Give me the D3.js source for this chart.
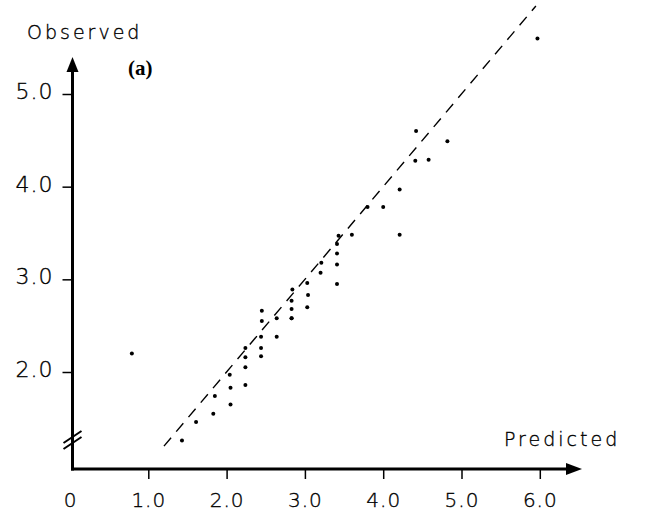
<!DOCTYPE html>
<html>
<head>
<meta charset="utf-8">
<script src="https://cdn.jsdelivr.net/npm/d3@7"></script>
<style>
    body { margin: 0; background: #fff; }
    .hand { font-family: "DejaVu Sans", sans-serif; font-weight: 200; fill: #000; stroke: #000; stroke-width: 0.35px; }
</style>
</head>
<body>
<div id="chart"></div>
<script>
// observed vs predicted values
var predicted = [0.79, 1.43, 1.61, 1.83, 1.85, 2.04, 2.05, 2.05, 2.24, 2.24, 2.24, 2.24,
    2.44, 2.44, 2.44, 2.45, 2.45, 2.64, 2.64, 2.83, 2.83, 2.83, 2.83, 2.84, 3.03, 3.03,
    3.04, 3.20, 3.21, 3.41, 3.41, 3.41, 3.41, 3.43, 3.60, 3.80, 4.00, 4.21, 4.21, 4.41,
    4.42, 4.58, 4.82, 5.97];
var observed = [2.20, 1.26, 1.46, 1.55, 1.74, 1.97, 1.83, 1.65, 2.26, 2.16, 2.05, 1.86,
    2.38, 2.26, 2.17, 2.66, 2.55, 2.58, 2.38, 2.58, 2.68, 2.77, 2.58, 2.89, 2.96, 2.70,
    2.83, 3.07, 3.18, 3.38, 3.28, 3.16, 2.95, 3.47, 3.48, 3.78, 3.78, 3.97, 3.48, 4.28,
    4.60, 4.29, 4.49, 5.60];

// the 1:1 line and the axis ticks
var refLine = [1.2, 5.95];
var xTicks = [0, 1, 2, 3, 4, 5, 6];
var yTicks = [2, 3, 4, 5];

var width = 649, height = 514;

var svg = d3.select('#chart').append('svg')
    .attr('width', width)
    .attr('height', height);

var x = d3.scaleLinear().domain([0, 6]).range([70, 539.8]);
var y = d3.scaleLinear().domain([2, 5]).range([372, 94]);

var axisX = 72.5, axisY = 469;   // where the two axes sit

// axis lines with arrow heads
svg.append('line')
    .attr('x1', axisX).attr('y1', axisY + 1.5)
    .attr('x2', axisX).attr('y2', 66)
    .style('stroke', '#000').style('stroke-width', 3);
svg.append('path')
    .attr('d', 'M' + (axisX - 6) + ',72 L' + axisX + ',57 L' + (axisX + 6) + ',72 Z')
    .style('fill', '#000');

svg.append('line')
    .attr('x1', axisX - 1.5).attr('y1', axisY)
    .attr('x2', 572).attr('y2', axisY)
    .style('stroke', '#000').style('stroke-width', 3);
svg.append('path')
    .attr('d', 'M566,' + (axisY - 6) + ' L582,' + axisY + ' L566,' + (axisY + 6) + ' Z')
    .style('fill', '#000');

// axis break on the y axis
[-3, 3].forEach(function (d) {
    svg.append('line')
        .attr('x1', axisX - 9).attr('y1', 446 + d)
        .attr('x2', axisX + 9).attr('y2', 434 + d)
        .style('stroke', '#000').style('stroke-width', 2);
});

// x axis ticks
var gx = svg.append('g')
    .attr('transform', 'translate(0,' + axisY + ')')
    .call(d3.axisBottom(x).tickValues(xTicks).tickSize(10)
        .tickFormat(function (d) { return d === 0 ? '0' : d.toFixed(1) }));
gx.select('.domain').remove();
gx.selectAll('.tick line').style('stroke', '#000').style('stroke-width', 1.5)
    .attr('y1', 1)
    .filter(function (d) { return d === 0 }).remove();
gx.selectAll('.tick text')
    .attr('class', 'hand')
    .attr('y', 31)
    .attr('dy', '0.35em')
    .style('font-size', '20px')
    .style('letter-spacing', '1px');

// y axis ticks
var gy = svg.append('g')
    .attr('transform', 'translate(' + axisX + ',0)')
    .call(d3.axisLeft(y).tickValues(yTicks).tickSize(10).tickPadding(9)
        .tickFormat(function (d) { return d.toFixed(1) }));
gy.select('.domain').remove();
gy.selectAll('.tick line').style('stroke', '#000').style('stroke-width', 1.5);
gy.selectAll('.tick text')
    .attr('class', 'hand')
    .attr('dy', '0.2em')
    .style('font-size', '22px')
    .style('letter-spacing', '1px');

// axis titles
svg.append('text')
    .attr('class', 'hand')
    .attr('x', 27).attr('y', 39)
    .style('font-size', '19px')
    .style('letter-spacing', '3px')
    .text('Observed');

svg.append('text')
    .attr('class', 'hand')
    .attr('x', 504).attr('y', 446)
    .style('font-size', '19px')
    .style('letter-spacing', '3px')
    .text('Predicted');

svg.append('text')
    .attr('x', 128).attr('y', 75)
    .style('font-family', '"Liberation Serif", serif')
    .style('font-weight', 'bold')
    .style('font-size', '21px')
    .text('(a)');

// dashed 1:1 line
svg.append('line')
    .attr('x1', x(refLine[0])).attr('y1', y(refLine[0]))
    .attr('x2', x(refLine[1])).attr('y2', y(refLine[1]))
    .style('stroke', '#000')
    .style('stroke-width', 1.4)
    .style('stroke-dasharray', '11,8');

// the points
svg.selectAll('.dot')
    .data(predicted)
    .enter().append('circle')
    .attr('class', 'dot')
    .attr('cx', function (d) { return x(d) })
    .attr('cy', function (d, i) { return y(observed[i]) })
    .attr('r', 2)
    .style('fill', '#000');
</script>
</body>
</html>
